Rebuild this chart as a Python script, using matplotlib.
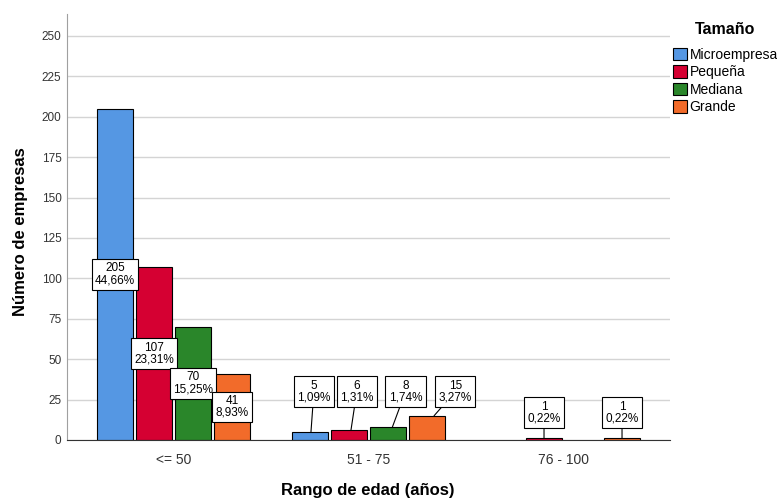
import numpy as np
import matplotlib.pyplot as plt
from matplotlib.patches import Patch

plt.rcParams['font.family'] = ['Liberation Sans', 'DejaVu Sans']

# data
age_groups = ['<= 50', '51 - 75', '76 - 100']
sizes = ['Microempresa', 'Pequeña', 'Mediana', 'Grande']
counts = {
    'Microempresa': [205, 5, 0],
    'Pequeña': [107, 6, 1],
    'Mediana': [70, 8, 0],
    'Grande': [41, 15, 1],
}
percents = {
    'Microempresa': ['44,66%', '1,09%', ''],
    'Pequeña': ['23,31%', '1,31%', '0,22%'],
    'Mediana': ['15,25%', '1,74%', ''],
    'Grande': ['8,93%', '3,27%', '0,22%'],
}
y_ticks = [0, 25, 50, 75, 100, 125, 150, 175, 200, 225, 250]

colors = ['#5597e3', '#d50032', '#2a862a', '#f26b2a']

# label layout for the short bars (box height and sideways shift)
small_label_y = [None, 30, 17]
small_label_dx = {1: [0.02, 0.04, 0.09, 0.145], 2: [0.0, 0.0, 0.0, 0.0]}

fig = plt.figure(figsize=(7.77, 4.99), dpi=100)
ax = fig.add_axes([67 / 777, 1 - 440 / 499, 603 / 777, 426 / 499])

x = np.arange(len(age_groups))
width = 0.18
step = 0.2
offsets = [(i - 1.5) * step for i in range(len(sizes))]

box_style = dict(boxstyle='square,pad=0.28', fc='white', ec='black', lw=0.8)

for i, size in enumerate(sizes):
    vals = counts[size]
    for g in range(len(age_groups)):
        v = vals[g]
        if v == 0:
            continue
        bx = x[g] + offsets[i]
        ax.bar(bx, v, width, color=colors[i], edgecolor='black', linewidth=0.8, zorder=2)
        label = '%d\n%s' % (v, percents[size][g])
        if v >= 30:
            ax.text(bx, v / 2, label, ha='center', va='center', fontsize=8.5,
                    linespacing=1.0, bbox=box_style, zorder=4)
        else:
            dx = small_label_dx[g][i]
            ax.annotate(label, xy=(bx + dx * 0.25, v), xytext=(bx + dx, small_label_y[g]),
                        ha='center', va='center', fontsize=8.5, linespacing=1.0,
                        bbox=box_style, zorder=4,
                        arrowprops=dict(arrowstyle='-', color='black', lw=0.8,
                                        shrinkA=0, shrinkB=0))

ax.set_xlim(-0.546, 2.546)
ax.set_ylim(0, 263.6)
ax.set_yticks(y_ticks)
ax.set_xticks(x)
ax.set_xticklabels(age_groups)
ax.tick_params(axis='y', length=0, pad=4, labelsize=8.5, labelcolor='#333333')
ax.tick_params(axis='x', length=0, pad=9, labelsize=10, labelcolor='#333333')
ax.grid(axis='y', color='#d4d4d4', lw=1, zorder=0)
ax.set_axisbelow(True)
for s in ['top', 'right']:
    ax.spines[s].set_visible(False)
ax.spines['left'].set_color('#a0a0a0')
ax.spines['bottom'].set_color('#333333')

ax.set_ylabel('Número de empresas', fontsize=12, fontweight='bold')
ax.yaxis.set_label_coords(-0.064, 0.49)
ax.set_xlabel('Rango de edad (años)', fontsize=12, fontweight='bold')
ax.xaxis.set_label_coords(0.499, -0.102)

# legend title drawn on its own to get the wider gap above the entries
fig.text(725 / 777, 1 - 29 / 499, 'Tamaño', ha='center', va='center',
         fontsize=11.5, fontweight='bold')
handles = [Patch(facecolor=c, edgecolor='black', lw=0.8) for c in colors]
leg = fig.legend(handles, sizes, loc='upper left', bbox_to_anchor=(673 / 777, 1 - 48 / 499),
                 frameon=False, fontsize=10,
                 handlelength=1.0, handleheight=1.0, handletextpad=0.2,
                 labelspacing=0.25, borderpad=0, borderaxespad=0)

fig.savefig('out.png', dpi=100)
